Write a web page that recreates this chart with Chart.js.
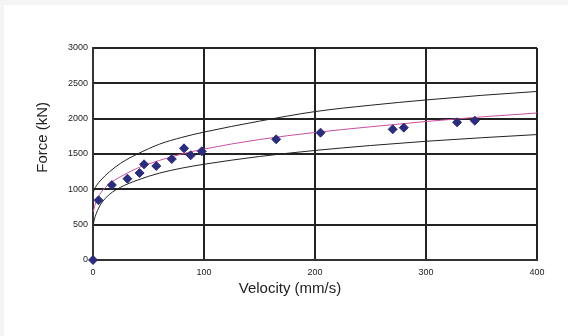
<!DOCTYPE html>
<html>
<head>
<meta charset="utf-8">
<script src="https://cdn.jsdelivr.net/npm/chart.js@4/dist/chart.umd.min.js"></script>
<style>
  html, body { margin:0; padding:0; background:#fff; overflow:hidden; }
  #topband { position:absolute; left:0; top:0; width:100%; height:5px; background:#f4f4f4; }
  #leftband { position:absolute; left:0; top:0; width:4px; height:100%; background:#f4f4f4; }
  #wrap { position:absolute; left:0; top:0; width:568px; height:336px; }
</style>
</head>
<body>
<div id="topband"></div>
<div id="leftband"></div>
<div id="wrap"><canvas id="chart" width="568" height="336"></canvas></div>
<script>
// measured points
const velocity = [0, 5, 17, 31, 42, 46, 57, 71, 82, 88, 98, 165, 205, 270, 280, 328, 344];
const force = [0, 845, 1061, 1150, 1231, 1354, 1330, 1429, 1580, 1481, 1538, 1708, 1802, 1849, 1873, 1948, 1971];

// fitted curves
const curveV = [0.3, 1, 3, 7, 15, 25, 40, 60, 80, 100, 150, 200, 250, 300, 350, 400];
const meanF  = [680, 730, 830, 950, 1080, 1180, 1300, 1410, 1500, 1570, 1705, 1805, 1885, 1960, 2025, 2080];
const upperF = [960, 990, 1050, 1130, 1250, 1370, 1500, 1640, 1735, 1810, 1965, 2100, 2190, 2265, 2330, 2385];
const lowerF = [500, 560, 660, 790, 930, 1030, 1130, 1230, 1300, 1355, 1465, 1550, 1620, 1680, 1730, 1775];

const xTicks = [0, 100, 200, 300, 400];
const yTicks = [0, 500, 1000, 1500, 2000, 2500, 3000];

const pts = (xs, ys) => xs.map((x, i) => ({x, y: ys[i]}));
const tickFont = {family:'Liberation Sans', size:9};
const titleFont = {family:'Liberation Sans', size:15};

const curve = (data, color) => ({
  data, showLine:true, borderColor:color, borderWidth:1, pointRadius:0,
  cubicInterpolationMode:'monotone', fill:false
});

new Chart(document.getElementById('chart'), {
  type:'scatter',
  data:{
    datasets:[
      {data:pts(velocity, force), pointStyle:'rectRot', pointRadius:4.5, backgroundColor:'#2b2c7c', borderColor:'#2b2c7c', borderWidth:1, clip:false},
      curve(pts(curveV, meanF), '#c94fa0'),
      curve(pts(curveV, upperF), '#222'),
      curve(pts(curveV, lowerF), '#222')
    ]
  },
  options:{
    responsive:false,
    animation:false,
    events:[],
    layout:{padding:{top:48, right:31, left:0, bottom:0}},
    plugins:{legend:{display:false}, tooltip:{enabled:false}},
    scales:{
      x:{
        type:'linear', min:0, max:400,
        afterBuildTicks:(s) => { s.ticks = xTicks.map(v => ({value:v})); },
        afterFit:(s) => { s.height = 76; },
        ticks:{color:'#222', font:tickFont, padding:7, maxRotation:0, callback:(v) => String(v)},
        grid:{color:'#222', lineWidth:2, drawTicks:false},
        border:{color:'#333', width:2},
        title:{display:true, text:'Velocity (mm/s)' + ' '.repeat(12), color:'#222', font:titleFont, padding:{top:0, bottom:38}}
      },
      y:{
        min:0, max:3000,
        afterBuildTicks:(s) => { s.ticks = yTicks.map(v => ({value:v})); },
        afterFit:(s) => { s.width = 93; },
        ticks:{color:'#222', font:tickFont, padding:5, callback:(v) => String(v)},
        grid:{color:'#222', lineWidth:2, drawTicks:false},
        border:{color:'#333', width:2},
        title:{display:true, text:' '.repeat(8) + 'Force (kN)', color:'#222', font:titleFont, padding:{top:34, bottom:0}}
      }
    }
  }
});
</script>
</body>
</html>
